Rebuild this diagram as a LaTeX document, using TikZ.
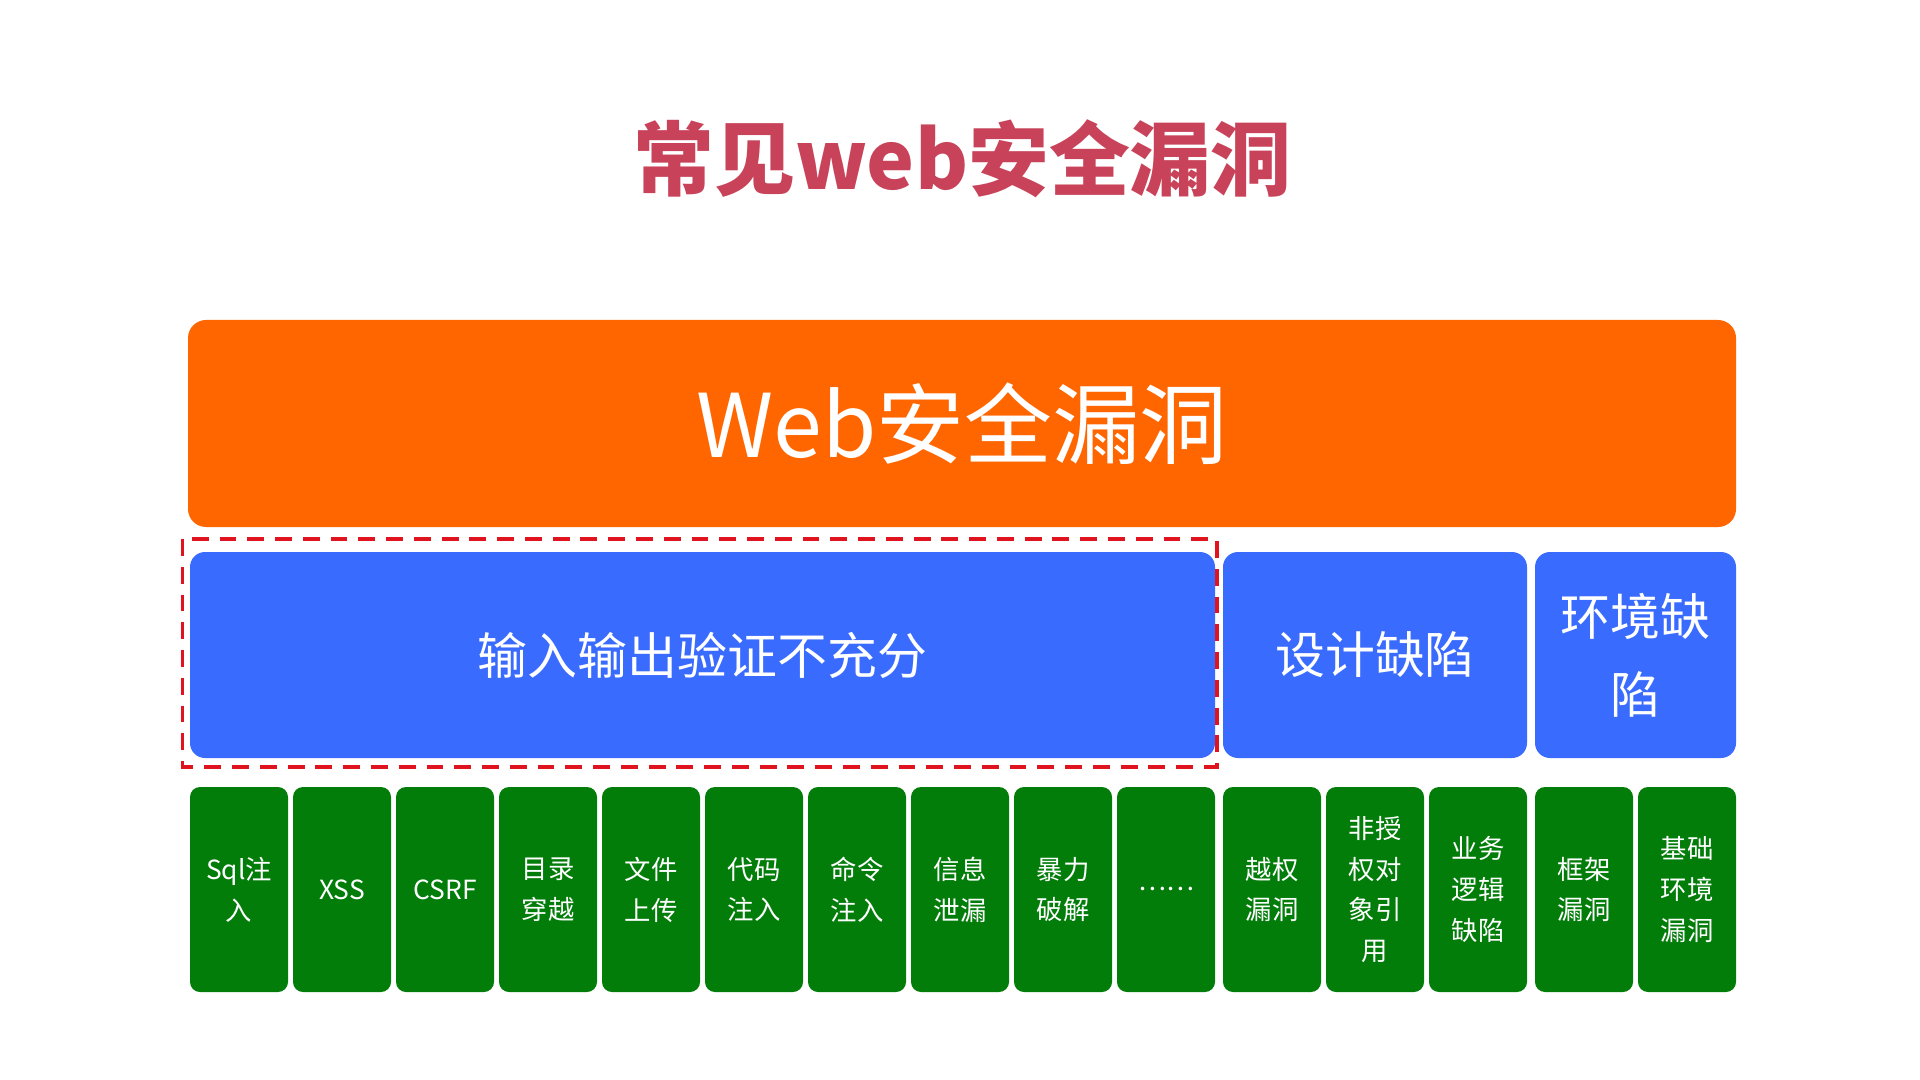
\documentclass[tikz,border=0pt]{standalone}
\usepackage{fontspec}
\setmainfont{Noto Sans CJK SC}
\usetikzlibrary{positioning}

\definecolor{titlered}{HTML}{C8435A}
\definecolor{toporange}{HTML}{FF6600}
\definecolor{midblue}{HTML}{3A6BFF}
\definecolor{lowgreen}{HTML}{037D0A}
\definecolor{dashred}{HTML}{E0141E}

\tikzset{
    topbox/.style={fill=toporange, rounded corners=0.18cm, text=white, font=\fontsize{25}{30}\selectfont,
        minimum width=15.48cm, minimum height=2.07cm, inner sep=0pt},
    midbox/.style={fill=midblue, rounded corners=0.15cm, text=white, align=center,
        font=\fontsize{14.2}{22.2}\selectfont, minimum height=2.06cm, inner sep=0pt},
    lowbox/.style={fill=lowgreen, rounded corners=0.1cm, text=white, align=center,
        font=\fontsize{7.5}{11.6}\selectfont, minimum width=0.98cm, minimum height=2.05cm, inner sep=0pt},
}

\begin{document}
\begin{tikzpicture}
    \useasboundingbox (0,0) rectangle (19.2,-10.8);
    \node (title) at (9.625,-1.59) [text=titlered, font=\fontsize{23}{28}\selectfont\bfseries] {常见web安全漏洞};
    \node (web) at (9.62,-4.235) [topbox] {Web安全漏洞};
    \node (input) at (7.025,-6.55) [midbox, minimum width=10.25cm] {输入输出验证不充分};
    \node (design) at (13.75,-6.55) [midbox, minimum width=3.04cm] {设计缺陷};
    \node (env) at (16.355,-6.55) [midbox, minimum width=2.01cm] {环境缺\\陷};
    \draw [dashred, line width=1.1pt, dash pattern=on 4.8pt off 3.1pt] (1.825,-5.39) rectangle (12.17,-7.67);
    \foreach \txt [count=\i from 0] in {Sql注\\入, XSS, CSRF, 目录\\穿越, 文件\\上传, 代码\\注入, 命令\\注入, 信息\\泄漏, 暴力\\破解, ……}
        \node (in\i) at (2.39+1.03*\i,-8.895) [lowbox] {\txt};
    \foreach \txt [count=\i from 0] in {越权\\漏洞, 非授\\权对\\象引\\用, 业务\\逻辑\\缺陷}
        \node (de\i) at (12.72+1.03*\i,-8.895) [lowbox] {\txt};
    \foreach \txt [count=\i from 0] in {框架\\漏洞, 基础\\环境\\漏洞}
        \node (en\i) at (15.84+1.03*\i,-8.895) [lowbox] {\txt};
\end{tikzpicture}
\end{document}
